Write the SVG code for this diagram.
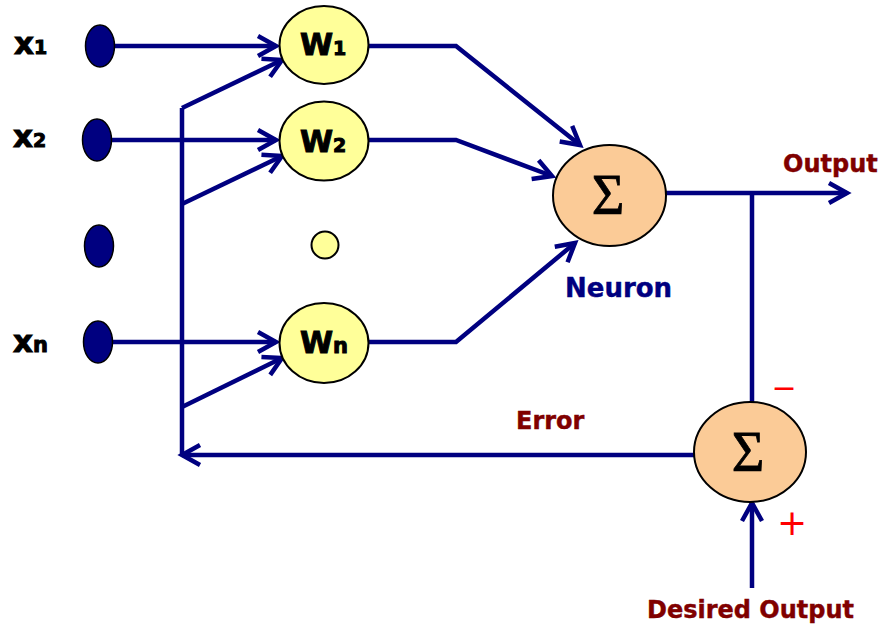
<svg xmlns="http://www.w3.org/2000/svg" width="883" height="625" viewBox="0 0 883 625">
<style>
.ln{fill:none;stroke:#000080;stroke-width:4.5}
.arr{marker-end:url(#ah)}
.inp{fill:#000080;stroke:#000;stroke-width:1.5}
.w{fill:#FFFF99;stroke:#000;stroke-width:2}
.s{fill:#FBCB97;stroke:#000;stroke-width:2}
.lbl{font-family:"DejaVu Sans",Verdana,sans-serif;font-weight:bold;fill:#000;stroke:#000;stroke-width:1}
.sig{font-family:"Liberation Serif","Times New Roman",serif;font-size:56px;fill:#000;stroke:#000;stroke-width:0.8;text-anchor:middle}
.red{font-family:"DejaVu Sans",sans-serif;fill:#FF0000;text-anchor:middle}
.dr{font-family:"DejaVu Sans",Verdana,sans-serif;font-weight:bold;font-size:24px;fill:#800000;stroke:#800000;stroke-width:0.4}
</style>
<defs>
<marker id="ah" markerUnits="userSpaceOnUse" markerWidth="30" markerHeight="30" refX="20" refY="15" orient="auto">
<path d="M2,5 L20,15 L2,25" fill="none" stroke="#000080" stroke-width="4.5"/>
</marker>
</defs>
<rect width="883" height="625" fill="#fff"/>
<g id="connectors">
<path class="ln arr" d="M114,46 L276,46"/>
<path class="ln arr" d="M110,140 L276,140"/>
<path class="ln arr" d="M112,342 L276,342"/>
<path class="ln" d="M182,108 L182,456"/>
<path class="ln arr" d="M182,108 L282,60"/>
<path class="ln arr" d="M182,204 L282,156"/>
<path class="ln arr" d="M182,407 L282,358"/>
<path class="ln arr" d="M368,46 L456,46 L580,145"/>
<path class="ln arr" d="M368,140 L456,140 L552,176"/>
<path class="ln arr" d="M368,342 L456,342 L575,243"/>
<path class="ln arr" d="M666,193 L847,193"/>
<path class="ln" d="M752,193 L752,403"/>
<path class="ln arr" d="M702,455 L182,455"/>
<path class="ln arr" d="M752,588 L752,503"/>
</g>
<g id="x1"><ellipse class="inp" cx="100" cy="46" rx="14.5" ry="21"/><text class="lbl" x="14" y="54"><tspan font-size="31">x</tspan><tspan font-size="19">1</tspan></text></g>
<g id="x2"><ellipse class="inp" cx="97" cy="140" rx="14.5" ry="21"/><text class="lbl" x="13" y="147"><tspan font-size="31">x</tspan><tspan font-size="19">2</tspan></text></g>
<g id="xdots"><ellipse class="inp" cx="99" cy="246" rx="14.5" ry="21"/></g>
<g id="xn"><ellipse class="inp" cx="98" cy="342" rx="14.5" ry="21"/><text class="lbl" x="13" y="352"><tspan font-size="31">x</tspan><tspan font-size="21">n</tspan></text></g>
<g id="w1"><ellipse class="w" cx="324" cy="45" rx="44.5" ry="39"/><text class="lbl" x="300" y="55"><tspan font-size="30">W</tspan><tspan font-size="19">1</tspan></text></g>
<g id="w2"><ellipse class="w" cx="324" cy="141" rx="44.5" ry="39.5"/><text class="lbl" x="300" y="152"><tspan font-size="30">W</tspan><tspan font-size="19">2</tspan></text></g>
<g id="wdot"><circle class="w" cx="325" cy="245" r="13.5"/></g>
<g id="wn"><ellipse class="w" cx="324" cy="343" rx="44.5" ry="40"/><text class="lbl" x="300" y="353"><tspan font-size="30">W</tspan><tspan font-size="21">n</tspan></text></g>
<g id="neuron"><ellipse class="s" cx="609.5" cy="195.5" rx="56.5" ry="50.5"/><text class="sig" x="608" y="214">Σ</text>
<text x="565" y="297" font-family="DejaVu Sans,Verdana,sans-serif" font-weight="bold" font-size="26" fill="#000080" stroke="#000080" stroke-width="0.4">Neuron</text></g>
<g id="errsum"><ellipse class="s" cx="750" cy="452" rx="56" ry="50"/><text class="sig" x="748" y="471">Σ</text></g>
<text class="dr" x="783" y="172">Output</text>
<text class="dr" x="516" y="429">Error</text>
<text class="dr" x="647" y="618">Desired Output</text>
<text class="red" x="784" y="398" font-size="30">−</text>
<text class="red" x="792" y="535" font-size="36">+</text>
</svg>
